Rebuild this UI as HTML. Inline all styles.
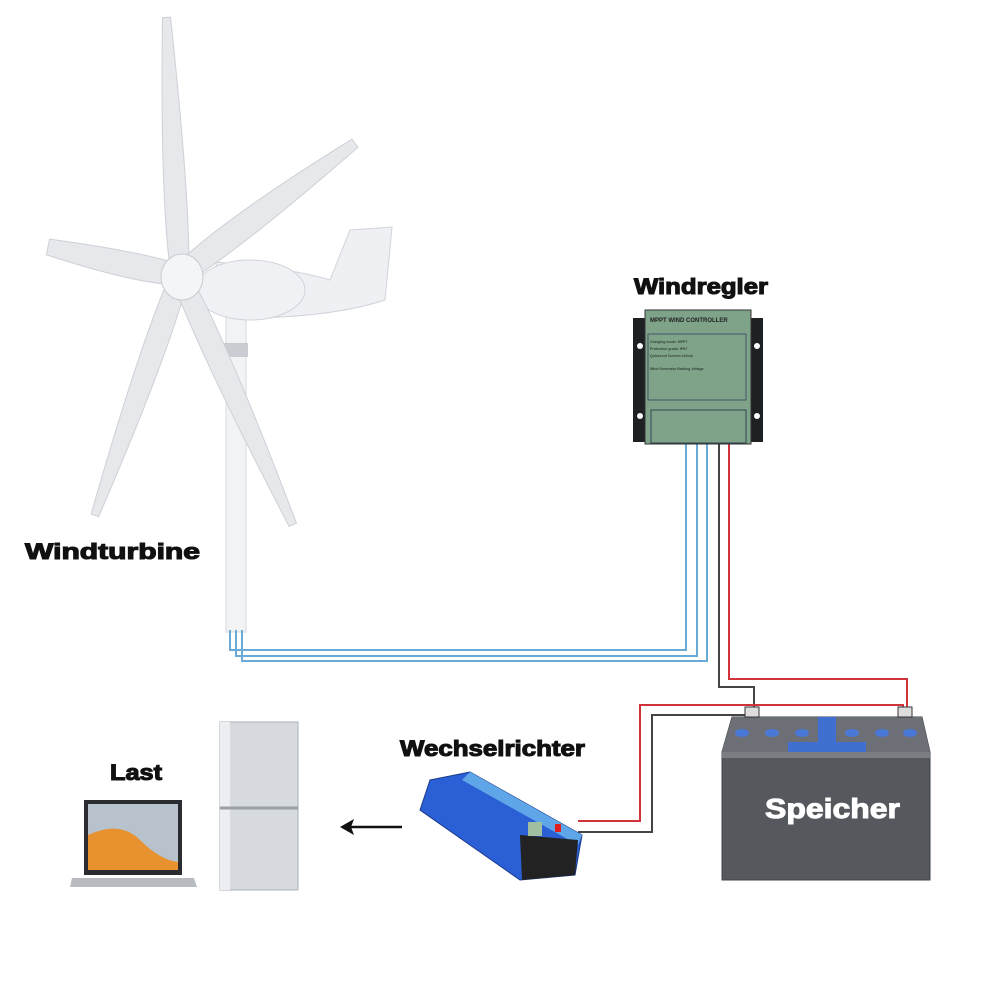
<!DOCTYPE html>
<html><head><meta charset="utf-8"><style>
html,body{margin:0;padding:0;background:#fff}
svg{display:block}
text{font-family:"Liberation Sans",Arial,sans-serif;font-weight:bold}
</style></head><body>
<svg width="1000" height="1000" viewBox="0 0 1000 1000" xmlns="http://www.w3.org/2000/svg">
<rect width="1000" height="1000" fill="#fff"/>
<!-- turbine pole -->
<rect x="226" y="300" width="20" height="332" fill="#f2f3f5" stroke="#d6d9dd"/>
<!-- tail -->
<path d="M215 262 Q290 268 330 280 L350 230 L392 227 L385 300 Q330 318 240 318 Z" fill="#eef0f3" stroke="#d0d4d9"/>
<!-- nacelle -->
<ellipse cx="250" cy="290" rx="55" ry="30" fill="#f0f1f4" stroke="#d0d4d9"/>
<rect x="222" y="343" width="26" height="14" fill="#c9ccd1"/>
<!-- blades -->
<g fill="#e6e8eb" stroke="#cdd1d6" stroke-width="1" transform="translate(180,275)">
<path transform="rotate(-93)" d="M0 -9 Q77 -16 258 -4 L258 4 Q77 14 0 9 Z"/>
<path transform="rotate(-37)" d="M0 -10 Q66 -19 219 -5 L219 5 Q66 16 0 10 Z"/>
<path transform="rotate(192)" d="M0 -10 Q40 -18 135 -8 L135 8 Q40 15 0 10 Z"/>
<path transform="rotate(109.5)" d="M0 -9 Q77 -16 255 -4 L255 4 Q77 15 0 9 Z"/>
<path transform="rotate(65.7)" d="M0 -9 Q80 -16 274 -4 L274 4 Q80 15 0 9 Z"/>
</g>
<ellipse cx="182" cy="277" rx="21" ry="23" fill="#f4f5f7" stroke="#c8ccd2"/>
<!-- blue wires -->
<g fill="none" stroke="#6aaad6" stroke-width="2">
<polyline points="230,630 230,650 686,650 686,440"/>
<polyline points="236,630 236,656 697,656 697,440"/>
<polyline points="242,630 242,661 707,661 707,440"/>
</g>
<!-- dc wires -->
<polyline points="719,440 719,687 754,687 754,712" fill="none" stroke="#444" stroke-width="2"/>
<polyline points="729,440 729,679 907,679 907,712" fill="none" stroke="#d0343a" stroke-width="2"/>
<polyline points="903,712 903,705 640,705 640,821 578,821" fill="none" stroke="#d0343a" stroke-width="2"/>
<polyline points="750,712 750,715 652,715 652,832 578,832" fill="none" stroke="#444" stroke-width="2"/>
<!-- controller -->
<rect x="633" y="318" width="130" height="124" fill="#1e2124"/>
<rect x="645" y="310" width="106" height="134" fill="#7ea389" stroke="#333"/>
<circle cx="640" cy="346" r="3" fill="#fff"/><circle cx="757" cy="346" r="3" fill="#fff"/>
<circle cx="640" cy="416" r="3" fill="#fff"/><circle cx="757" cy="416" r="3" fill="#fff"/>
<text x="650" y="322" font-size="6" fill="#222">MPPT WIND CONTROLLER</text>
<rect x="648" y="334" width="98" height="66" fill="none" stroke="#456"/>
<g fill="#33443a" font-size="3.5" font-weight="normal"><text x="650" y="343">Charging mode: MPPT</text><text x="650" y="350">Protection grade: IP67</text><text x="650" y="357">Quiescent Current ≤10mA</text><text x="650" y="370">Wind Generator Braking Voltage</text></g>
<rect x="651" y="410" width="95" height="33" fill="none" stroke="#345"/>
<!-- battery -->
<path d="M722 752 L732 717 L922 717 L930 752 L930 880 L722 880 Z" fill="#55585d" stroke="#3e4247"/>
<path d="M732 717 L922 717 L930 752 L722 752 Z" fill="#6c6f75"/>
<rect x="722" y="752" width="208" height="6" fill="#7a7d82"/>
<rect x="818" y="717" width="18" height="35" fill="#3f6fd0"/>
<rect x="788" y="742" width="78" height="10" fill="#3f6fd0"/>
<g fill="#4a78d6"><ellipse cx="742" cy="733" rx="7" ry="4"/><ellipse cx="772" cy="733" rx="7" ry="4"/><ellipse cx="802" cy="733" rx="7" ry="4"/><ellipse cx="852" cy="733" rx="7" ry="4"/><ellipse cx="882" cy="733" rx="7" ry="4"/><ellipse cx="910" cy="733" rx="7" ry="4"/></g>
<rect x="745" y="707" width="14" height="10" fill="#ddd" stroke="#333"/>
<rect x="898" y="707" width="14" height="10" fill="#ddd" stroke="#333"/>
<text x="765" y="818" font-size="28" fill="#fff" stroke="#fff" stroke-width="1" textLength="135" lengthAdjust="spacingAndGlyphs">Speicher</text>
<!-- inverter -->
<path d="M430 780 L470 772 L582 835 L575 875 L520 880 L420 810 Z" fill="#2a5fd6" stroke="#1a3a8a"/>
<path d="M470 772 L582 835 L578 845 L462 780 Z" fill="#5fa6e8"/>
<path d="M520 835 L578 840 L575 875 L522 880 Z" fill="#222"/>
<rect x="528" y="822" width="14" height="14" fill="#9fbfa0"/>
<rect x="555" y="824" width="6" height="8" fill="#e02020"/>
<!-- arrow -->
<line x1="350" y1="827" x2="402" y2="827" stroke="#111" stroke-width="2.5"/>
<path d="M340 827 L354 819 L351 827 L354 835 Z" fill="#111"/>
<!-- fridge -->
<rect x="220" y="722" width="78" height="168" fill="#d7dadf" stroke="#aab0b6"/>
<rect x="220" y="722" width="10" height="168" fill="#eceef1"/>
<line x1="220" y1="808" x2="298" y2="808" stroke="#9aa0a6" stroke-width="3"/>
<!-- laptop -->
<rect x="84" y="800" width="98" height="75" fill="#2a2c30"/>
<rect x="88" y="804" width="90" height="66" fill="#b7c2cc"/>
<path d="M88 870 L88 835 Q120 820 140 840 Q160 860 178 862 L178 870 Z" fill="#e8922f"/>
<path d="M72 878 L194 878 L197 887 L70 887 Z" fill="#b8bcc1"/>
<!-- labels -->
<g fill="#111" stroke="#111" stroke-width="1.1">
<text x="634" y="294" font-size="22" textLength="134" lengthAdjust="spacingAndGlyphs">Windregler</text>
<text x="25" y="559" font-size="22" textLength="175" lengthAdjust="spacingAndGlyphs">Windturbine</text>
<text x="400" y="756" font-size="22" textLength="185" lengthAdjust="spacingAndGlyphs">Wechselrichter</text>
<text x="110" y="780" font-size="22" textLength="52" lengthAdjust="spacingAndGlyphs">Last</text>
</g>
</svg>
</body></html>
